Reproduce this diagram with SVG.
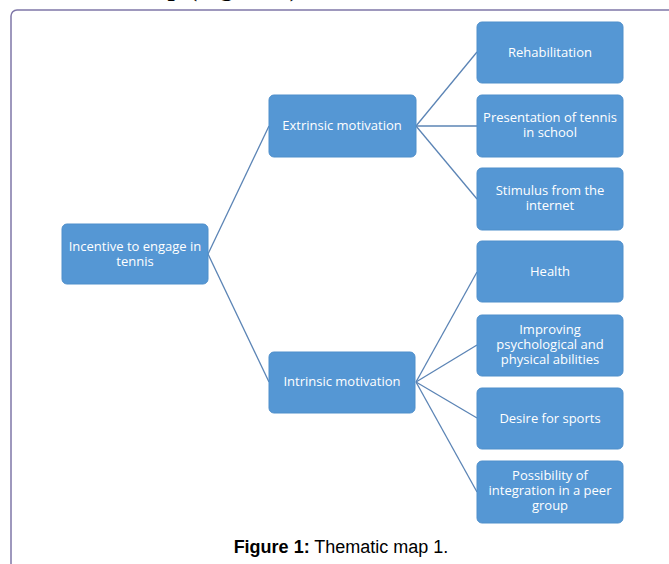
<svg xmlns="http://www.w3.org/2000/svg" width="669" height="564" viewBox="0 0 669 564">
<style>
.box{fill:#5597d4;stroke:#4f8fcb;stroke-width:1}
.lbl{font-family:"Open Sans","DejaVu Sans",sans-serif;font-size:13px;fill:#ffffff;text-anchor:middle}
.con{stroke:#5b84b5;stroke-width:1.3;fill:none}
</style>
<rect width="669" height="564" fill="#ffffff"/>
<text x="305" y="-4" font-family="Liberation Serif, serif" font-weight="bold" font-size="26" text-anchor="end" fill="#000">Thematic map (Figure 1).</text>
<rect x="11" y="10" width="680" height="600" rx="6" fill="none" stroke="#7f77a8" stroke-width="1.5"/>
<g id="connectors">
<line class="con" x1="208" y1="254" x2="269" y2="126"/>
<line class="con" x1="208" y1="254" x2="269" y2="382"/>
<line class="con" x1="416" y1="126" x2="477" y2="52"/>
<line class="con" x1="416" y1="126" x2="477" y2="126"/>
<line class="con" x1="416" y1="126" x2="477" y2="199"/>
<line class="con" x1="416" y1="382" x2="477" y2="272"/>
<line class="con" x1="416" y1="382" x2="477" y2="345"/>
<line class="con" x1="416" y1="382" x2="477" y2="418"/>
<line class="con" x1="416" y1="382" x2="477" y2="492"/>
</g>
<g id="root"><rect class="box" x="62" y="224" width="146" height="60" rx="5"/>
<text class="lbl" x="135" y="251">Incentive to engage in</text><text class="lbl" x="135" y="266">tennis</text></g>
<g id="extrinsic"><rect class="box" x="269" y="95" width="147" height="62" rx="5"/>
<text class="lbl" x="342" y="130">Extrinsic motivation</text></g>
<g id="intrinsic"><rect class="box" x="269" y="352" width="146" height="61" rx="5"/>
<text class="lbl" x="342" y="386">Intrinsic motivation</text></g>
<g id="rehab"><rect class="box" x="477" y="22" width="146" height="61" rx="5"/>
<text class="lbl" x="550" y="57">Rehabilitation</text></g>
<g id="school"><rect class="box" x="477" y="95" width="146" height="62" rx="5"/>
<text class="lbl" x="550" y="122">Presentation of tennis</text><text class="lbl" x="550" y="137">in school</text></g>
<g id="internet"><rect class="box" x="477" y="168" width="146" height="62" rx="5"/>
<text class="lbl" x="550" y="195">Stimulus from the</text><text class="lbl" x="550" y="210">internet</text></g>
<g id="health"><rect class="box" x="477" y="241" width="146" height="61" rx="5"/>
<text class="lbl" x="550" y="276">Health</text></g>
<g id="improving"><rect class="box" x="477" y="315" width="146" height="61" rx="5"/>
<text class="lbl" x="550" y="334">Improving</text><text class="lbl" x="550" y="349">psychological and</text><text class="lbl" x="550" y="364">physical abilities</text></g>
<g id="desire"><rect class="box" x="477" y="388" width="146" height="61" rx="5"/>
<text class="lbl" x="550" y="423">Desire for sports</text></g>
<g id="peer"><rect class="box" x="477" y="461" width="146" height="62" rx="5"/>
<text class="lbl" x="550" y="480">Possibility of</text><text class="lbl" x="550" y="495">integration in a peer</text><text class="lbl" x="550" y="510">group</text></g>
<text x="341" y="553" font-family="Liberation Sans, Arial, sans-serif" font-size="18" text-anchor="middle" fill="#000"><tspan font-weight="bold">Figure 1:</tspan> Thematic map 1.</text>
</svg>
